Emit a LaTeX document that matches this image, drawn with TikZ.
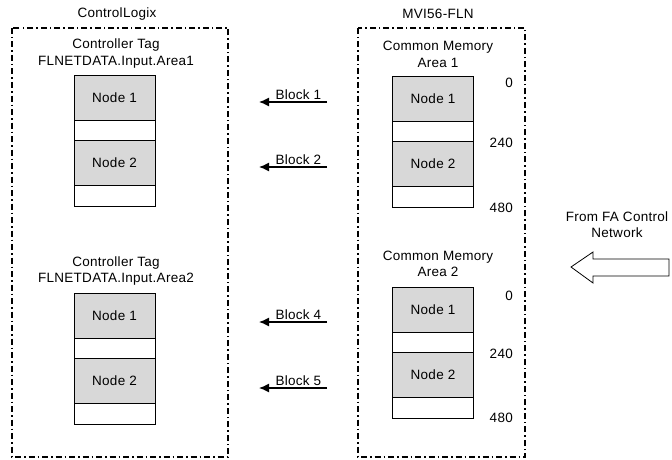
\documentclass[tikz,border=0pt]{standalone}
\usepackage{fontspec}
\setmainfont[LetterSpace=2]{Liberation Sans}
\usetikzlibrary{arrows.meta,positioning}

\definecolor{memgray}{RGB}{216,216,216}

\tikzset{
  frame/.style={line width=1.6pt,dash pattern=on 6pt off 3pt on 1.5pt off 3pt},
  lbl/.style={font=\fontsize{13.5}{16.5}\selectfont,align=center,inner sep=0pt},
  nodecell/.style={draw,fill=memgray,minimum width=81pt,minimum height=45pt,
    inner sep=0pt,outer sep=0pt,font=\fontsize{13.5}{16.5}\selectfont},
  sparecell/.style={draw,fill=white,minimum width=81pt,minimum height=20.5pt,
    inner sep=0pt,outer sep=0pt},
  blockarrow/.style={line width=1.3pt,-{Latex[length=10pt,width=9pt]}}
}

\begin{document}
\begin{tikzpicture}[x=1pt,y=-1pt]
\useasboundingbox (0,0) rectangle (672,460);

% outer frames
\draw[frame] (12,28) rectangle (228,457);
\draw[frame] (358,28) rectangle (525,457);
\node[lbl] (clx) at (117,14) {ControlLogix};
\node[lbl] (mvi) at (438,14) {MVI56-FLN};

% ControlLogix tags
\node[lbl] (tag1) at (116,53.5) {Controller Tag\\FLNETDATA.Input.Area1};
\node[nodecell] (tA1n1) at (114.5,97.5) {Node 1};
\node[sparecell,below=0pt of tA1n1] (tA1s1) {};
\node[nodecell,below=0pt of tA1s1] (tA1n2) {Node 2};
\node[sparecell,below=0pt of tA1n2] (tA1s2) {};

\node[lbl] (tag2) at (116,271) {Controller Tag\\FLNETDATA.Input.Area2};
\node[nodecell] (tA2n1) at (114.5,315.5) {Node 1};
\node[sparecell,below=0pt of tA2n1] (tA2s1) {};
\node[nodecell,below=0pt of tA2s1] (tA2n2) {Node 2};
\node[sparecell,below=0pt of tA2n2] (tA2s2) {};

% common memory
\node[lbl] (cm1) at (438,54.5) {Common Memory\\Area 1};
\node[nodecell] (mA1n1) at (433,98.5) {Node 1};
\node[sparecell,below=0pt of mA1n1] (mA1s1) {};
\node[nodecell,below=0pt of mA1s1] (mA1n2) {Node 2};
\node[sparecell,below=0pt of mA1n2] (mA1s2) {};
\node[lbl,anchor=east] (o1a) at (513,83) {0};
\node[lbl,anchor=east] (o1b) at (513,143) {240};
\node[lbl,anchor=east] (o1c) at (513,208) {480};

\node[lbl] (cm2) at (438,264) {Common Memory\\Area 2};
\node[nodecell] (mA2n1) at (433,309.5) {Node 1};
\node[sparecell,below=0pt of mA2n1] (mA2s1) {};
\node[nodecell,below=0pt of mA2s1] (mA2n2) {Node 2};
\node[sparecell,below=0pt of mA2n2] (mA2s2) {};
\node[lbl,anchor=east] (o2a) at (513,296) {0};
\node[lbl,anchor=east] (o2b) at (513,354) {240};
\node[lbl,anchor=east] (o2c) at (513,418) {480};

% block transfers
\coordinate (b1s) at (327,102); \coordinate (b1e) at (259,102);
\coordinate (b2s) at (327,167); \coordinate (b2e) at (259,167);
\coordinate (b4s) at (327,322); \coordinate (b4e) at (259,322);
\coordinate (b5s) at (327,388); \coordinate (b5e) at (259,388);
\draw[blockarrow] (b1s) -- node[lbl,above=1.5pt,pos=0.42] (blk1) {Block 1} (b1e);
\draw[blockarrow] (b2s) -- node[lbl,above=1.5pt,pos=0.42] (blk2) {Block 2} (b2e);
\draw[blockarrow] (b4s) -- node[lbl,above=1.5pt,pos=0.42] (blk4) {Block 4} (b4e);
\draw[blockarrow] (b5s) -- node[lbl,above=1.5pt,pos=0.42] (blk5) {Block 5} (b5e);

% network input
\node[lbl] (fanet) at (617,224.5) {From FA Control\\Network};
\draw[line width=0.8pt,fill=white] (669,259) -- (593,259) -- (593,252) -- (571,267)
  -- (593,283) -- (593,276) -- (669,276) -- cycle;
\end{tikzpicture}
\end{document}
